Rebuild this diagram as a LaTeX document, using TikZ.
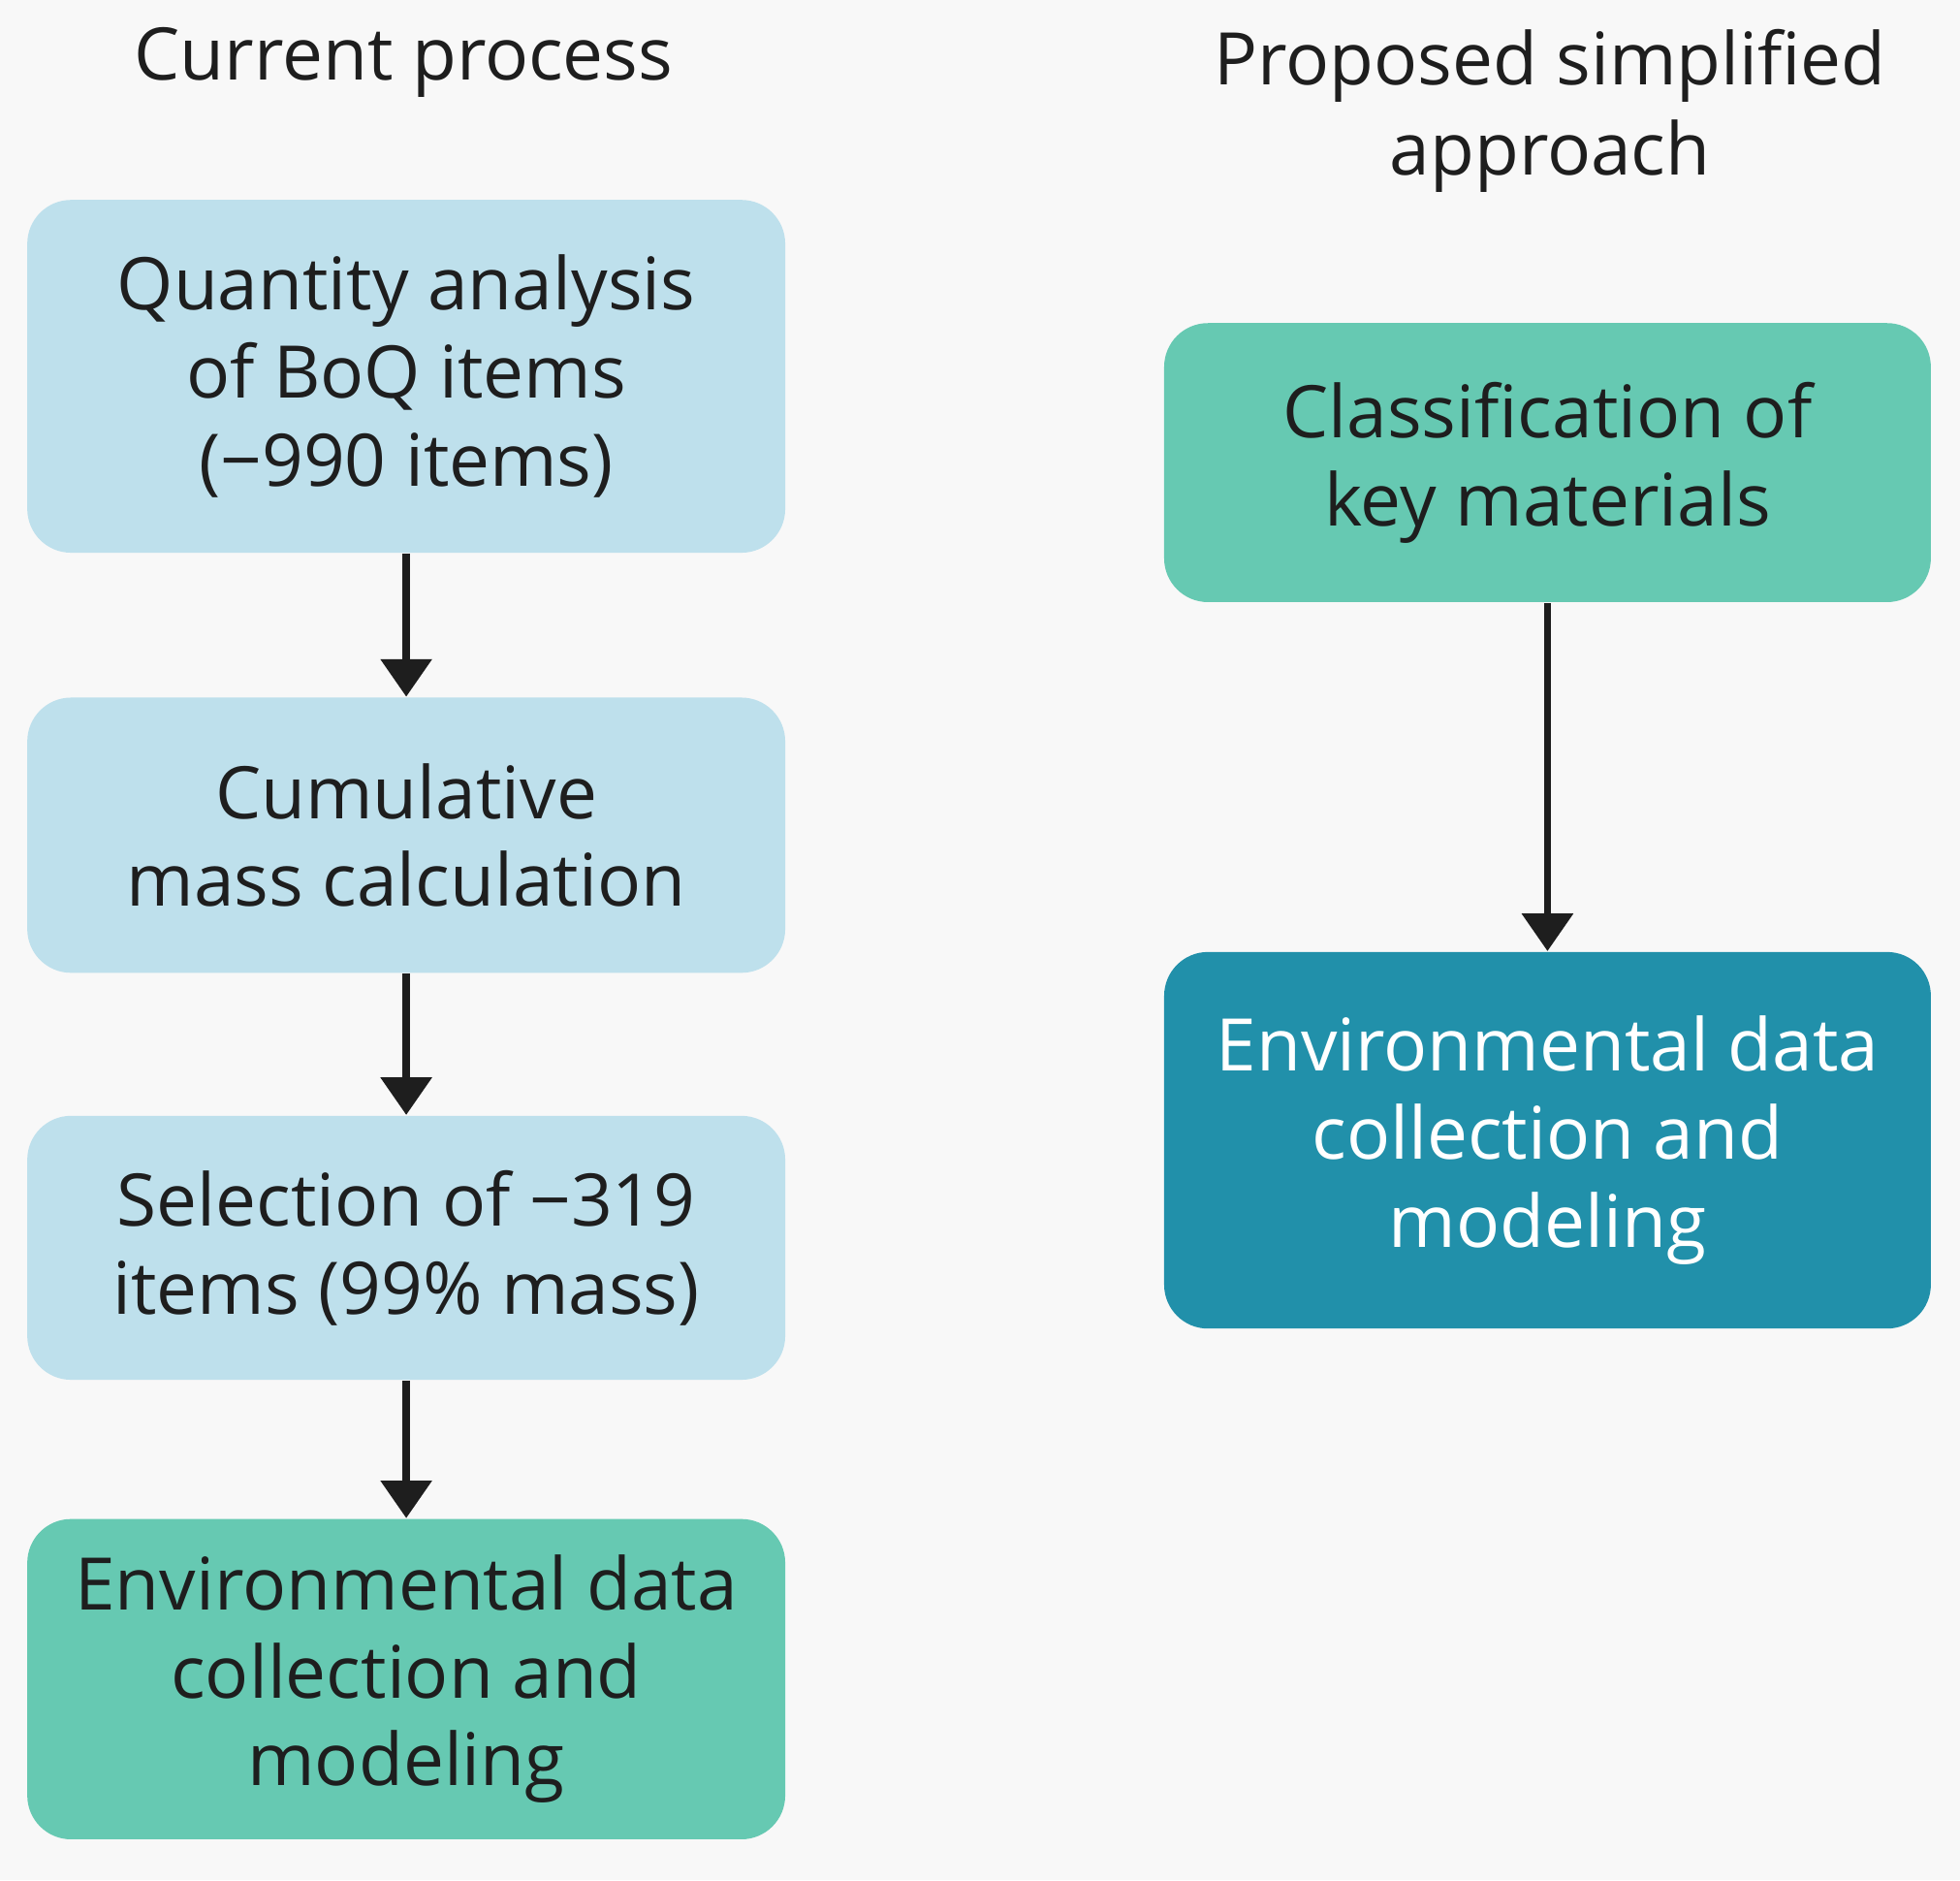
\documentclass[tikz,border=0pt]{standalone}
\usepackage{fontspec}
\setmainfont{Open Sans}
\usetikzlibrary{arrows.meta}
\definecolor{bg}{HTML}{F8F8F8}
\definecolor{lblue}{HTML}{BEE0EC}
\definecolor{lgreen}{HTML}{66C9B2}
\definecolor{teal}{HTML}{2190AA}
\definecolor{ink}{HTML}{1E1E1E}
\begin{document}
\begin{tikzpicture}[x=0.01cm,y=-0.01cm,
  box/.style={rounded corners=0.35cm,draw=none,align=center,text=ink,
    font=\fontsize{16.5}{20}\selectfont},
  ttl/.style={align=center,text=ink,font=\fontsize{16.5}{20.5}\selectfont},
  arr/.style={-{Triangle[length=0.3cm,width=0.4cm]},line width=1.6pt,draw=ink}]
\fill[bg] (0,0) rectangle (1568,1504);
\useasboundingbox (0,0) rectangle (1568,1504);
\node[ttl] (t1) at (323,50) {Current process};
\node[ttl] (t2) at (1240,89) {Proposed simplified\\approach};
\node[box,fill=lblue,minimum width=6.06cm,minimum height=2.82cm] (a) at (325,301) {Quantity analysis\\of BoQ items\\(−990 items)};
\node[box,fill=lblue,minimum width=6.06cm,minimum height=2.2cm] (b) at (325,668) {Cumulative\\mass calculation};
\node[box,fill=lblue,minimum width=6.06cm,minimum height=2.11cm] (c) at (325,998) {Selection of −319\\items (99\% mass)};
\node[box,fill=lgreen,minimum width=6.06cm,minimum height=2.56cm] (d) at (325,1343) {Environmental data\\collection and\\modeling};
\node[box,fill=lgreen,minimum width=6.13cm,minimum height=2.23cm] (e) at (1238,370) {Classification of\\key materials};
\node[box,fill=teal,text=white,minimum width=6.13cm,minimum height=3.01cm] (f) at (1238,912) {Environmental data\\collection and\\modeling};
\draw[arr] (a.south) -- (b.north);
\draw[arr] (b.south) -- (c.north);
\draw[arr] (c.south) -- (d.north);
\draw[arr] (e.south) -- (f.north);
\end{tikzpicture}
\end{document}
